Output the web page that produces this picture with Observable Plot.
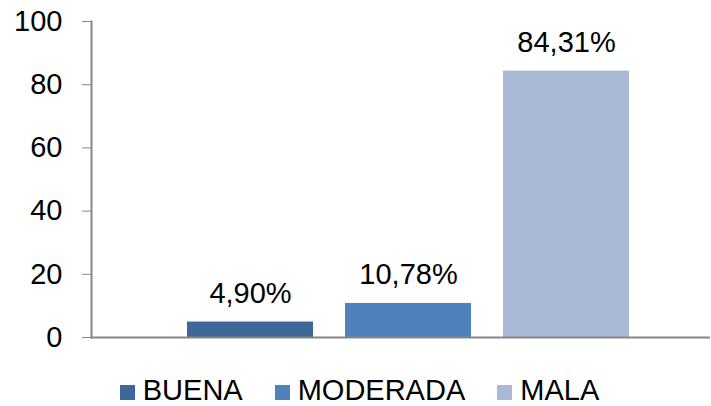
<!DOCTYPE html>
<html><head><meta charset="utf-8">
<script src="https://cdn.jsdelivr.net/npm/d3@7"></script>
<script src="https://cdn.jsdelivr.net/npm/@observablehq/plot@0.6"></script>
<style>
body{margin:0;background:#fff;font-family:"Liberation Sans",Arial,sans-serif;overflow:hidden}
#chart svg{display:block}
#legend{display:flex;justify-content:center;align-items:center;font-size:29px;line-height:29px;height:29px;color:#000;margin-top:21px;padding-left:8px}
#legend .it{display:flex;align-items:center;margin:0 16px}
#legend .sw{width:15px;height:15px;margin-right:8px;margin-top:3px}
</style></head><body>
<div id="chart"></div>
<div id="legend"></div>
<script>
const categories = ["BUENA", "MODERADA", "MALA"];
const values = [4.90, 10.78, 84.31];
const colors = ["#3F6797", "#4F81BD", "#A9B9D6"];
const yTicks = [0, 20, 40, 60, 80, 100];

const data = categories.map((c, i) => ({cat: c, val: values[i]}));
const fmt = v => d3.format(".2f")(v).replace(".", ",") + "%";

const plot = Plot.plot({
  width: 711,
  height: 355,
  marginLeft: 91,
  marginRight: 1,
  marginTop: 21,
  marginBottom: 18,
  style: {fontFamily: "'Liberation Sans', Arial, sans-serif", fontSize: "29px", color: "#000", background: "#fff"},
  x: {domain: categories, range: [154.3, 661.5], padding: 0.2, axis: null},
  y: {domain: [0, 100], ticks: yTicks, label: null},
  color: {domain: categories, range: colors},
  marks: [
    Plot.barY(data, {x: "cat", y: "val", fill: "cat"}),
    Plot.text(data, {x: "cat", y: "val", text: d => fmt(d.val), dy: -19, lineAnchor: "bottom", fontSize: 29, fill: "#000"}),
    Plot.axisY({ticks: yTicks, tickSize: 9, tickPadding: 20, stroke: "#868686", fill: "#000", fontSize: 29, tickFormat: d => d, label: null}),
    Plot.frame({anchor: "left", stroke: "#868686", strokeWidth: 2}),
    Plot.ruleY([0], {stroke: "#868686", strokeWidth: 2})
  ]
});
document.getElementById("chart").appendChild(plot);

const leg = document.getElementById("legend");
categories.forEach((c, i) => {
  const it = document.createElement("div"); it.className = "it";
  const sw = document.createElement("div"); sw.className = "sw"; sw.style.background = colors[i];
  const t = document.createElement("span"); t.textContent = c;
  it.appendChild(sw); it.appendChild(t); leg.appendChild(it);
});
</script>
</body></html>
